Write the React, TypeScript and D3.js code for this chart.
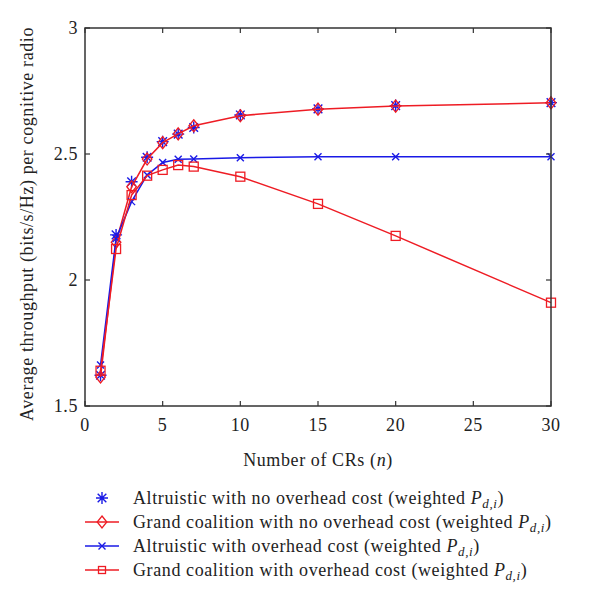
import React, {useRef, useEffect} from 'react';
import * as d3 from "d3";

// number of cognitive radios
const crs = [1, 2, 3, 4, 5, 6, 7, 10, 15, 20, 30];
// average throughput per CR (bits/s/Hz)
const altruisticNoOverhead = [1.622, 2.179, 2.39, 2.487, 2.549, 2.579, 2.605, 2.655, 2.679, 2.692, 2.704];
const grandNoOverhead = [1.615, 2.15, 2.37, 2.48, 2.545, 2.58, 2.612, 2.652, 2.678, 2.69, 2.703];
const altruisticOverhead = [1.663, 2.165, 2.311, 2.417, 2.466, 2.479, 2.48, 2.485, 2.489, 2.489, 2.489];
const grandOverhead = [1.64, 2.123, 2.337, 2.414, 2.437, 2.456, 2.45, 2.41, 2.302, 2.175, 1.91];

const xTicks = [0, 5, 10, 15, 20, 25, 30];
const yTicks = [1.5, 2, 2.5, 3];

const legendLabels = [
  "Altruistic with no overhead cost (weighted ",
  "Grand coalition with no overhead cost (weighted ",
  "Altruistic with overhead cost (weighted ",
  "Grand coalition with overhead cost (weighted ",
];

const RED = "#ee1c24";
const BLUE = "#1a1ae6";
const FONT = "'Liberation Serif', 'DejaVu Serif', serif";

function App(){
  const canvas = useRef<SVGSVGElement>(null);

  useEffect(() => {
    const svg = d3.select(canvas.current);
    svg.selectAll("*").remove();

    const left = 85, right = 551, top = 28, bottom = 406;

    const x = d3.scaleLinear().domain([0, 30]).range([left, right]);
    const y = d3.scaleLinear().domain([1.5, 3]).range([bottom, top]);

    const line = d3.line<[number, number]>()
      .x(d => x(d[0]))
      .y(d => y(d[1]));

    const pts = (vals: number[]) => crs.map((c, i) => [c, vals[i]] as [number, number]);

    // markers
    const star = (g: any, cx: number, cy: number, r: number, color: string) => {
      const d = r * 0.72;
      g.append("path")
        .attr("d", `M${cx - r},${cy}L${cx + r},${cy}M${cx},${cy - r}L${cx},${cy + r}M${cx - d},${cy - d}L${cx + d},${cy + d}M${cx - d},${cy + d}L${cx + d},${cy - d}`)
        .attr("stroke", color).attr("stroke-width", 1.4).attr("fill", "none");
    };
    const diamond = (g: any, cx: number, cy: number, r: number, color: string) => {
      g.append("path")
        .attr("d", `M${cx},${cy - r}L${cx + r * 0.8},${cy}L${cx},${cy + r}L${cx - r * 0.8},${cy}Z`)
        .attr("stroke", color).attr("stroke-width", 1.3).attr("fill", "none");
    };
    const cross = (g: any, cx: number, cy: number, r: number, color: string) => {
      g.append("path")
        .attr("d", `M${cx - r},${cy - r}L${cx + r},${cy + r}M${cx - r},${cy + r}L${cx + r},${cy - r}`)
        .attr("stroke", color).attr("stroke-width", 1.4).attr("fill", "none");
    };
    const square = (g: any, cx: number, cy: number, r: number, color: string) => {
      g.append("rect")
        .attr("x", cx - r).attr("y", cy - r).attr("width", 2 * r).attr("height", 2 * r)
        .attr("stroke", color).attr("stroke-width", 1.3).attr("fill", "none");
    };

    const plot = svg.append("g");

    // series 1: asterisks only
    pts(altruisticNoOverhead).forEach(p => star(plot, x(p[0]), y(p[1]), 6, BLUE));

    // series 2: red line + diamonds
    plot.append("path").attr("d", line(pts(grandNoOverhead)))
      .attr("fill", "none").attr("stroke", RED).attr("stroke-width", 1.5);
    pts(grandNoOverhead).forEach(p => diamond(plot, x(p[0]), y(p[1]), 6, RED));

    // series 3: blue line + x
    plot.append("path").attr("d", line(pts(altruisticOverhead)))
      .attr("fill", "none").attr("stroke", BLUE).attr("stroke-width", 1.5);
    pts(altruisticOverhead).forEach(p => cross(plot, x(p[0]), y(p[1]), 3.5, BLUE));

    // series 4: red line + squares
    plot.append("path").attr("d", line(pts(grandOverhead)))
      .attr("fill", "none").attr("stroke", RED).attr("stroke-width", 1.5);
    pts(grandOverhead).forEach(p => square(plot, x(p[0]), y(p[1]), 4.5, RED));

    // frame
    svg.append("rect")
      .attr("x", left).attr("y", top).attr("width", right - left).attr("height", bottom - top)
      .attr("fill", "none").attr("stroke", "#333").attr("stroke-width", 1.5);

    const txt = (sel: any) => sel
      .style("font-family", FONT).style("font-size", "18px")
      .style("letter-spacing", "0.6px").attr("fill", "#222");

    // inward ticks
    const tickLen = 5;
    xTicks.forEach(t => {
      svg.append("line").attr("x1", x(t)).attr("x2", x(t)).attr("y1", bottom).attr("y2", bottom - tickLen)
        .attr("stroke", "#333").attr("stroke-width", 1.2);
      svg.append("line").attr("x1", x(t)).attr("x2", x(t)).attr("y1", top).attr("y2", top + tickLen)
        .attr("stroke", "#333").attr("stroke-width", 1.2);
      txt(svg.append("text")
        .attr("x", x(t)).attr("y", 431)
        .attr("text-anchor", "middle"))
        .text(d3.format("d")(t));
    });
    yTicks.forEach(t => {
      svg.append("line").attr("x1", left).attr("x2", left + tickLen).attr("y1", y(t)).attr("y2", y(t))
        .attr("stroke", "#333").attr("stroke-width", 1.2);
      svg.append("line").attr("x1", right).attr("x2", right - tickLen).attr("y1", y(t)).attr("y2", y(t))
        .attr("stroke", "#333").attr("stroke-width", 1.2);
      txt(svg.append("text")
        .attr("x", left - 7).attr("y", y(t) + 6)
        .attr("text-anchor", "end"))
        .text(t === 1.5 || t === 2.5 ? String(t) : d3.format("d")(t));
    });

    // axis titles
    const xt = txt(svg.append("text")
      .attr("x", (left + right) / 2).attr("y", 466)
      .attr("text-anchor", "middle"));
    xt.append("tspan").text("Number of CRs (");
    xt.append("tspan").style("font-style", "italic").text("n");
    xt.append("tspan").text(")");

    txt(svg.append("text")
      .attr("transform", `translate(33, 224) rotate(-90)`)
      .attr("text-anchor", "middle"))
      .text("Average throughput (bits/s/Hz) per cognitive radio");

    // legend
    const lg = svg.append("g");
    const markers = [
      (cy: number) => star(lg, 102, cy, 6, BLUE),
      (cy: number) => { lg.append("line").attr("x1", 85).attr("x2", 119).attr("y1", cy).attr("y2", cy).attr("stroke", RED).attr("stroke-width", 1.5); diamond(lg, 102, cy, 6, RED); },
      (cy: number) => { lg.append("line").attr("x1", 85).attr("x2", 119).attr("y1", cy).attr("y2", cy).attr("stroke", BLUE).attr("stroke-width", 1.5); cross(lg, 102, cy, 3.5, BLUE); },
      (cy: number) => { lg.append("line").attr("x1", 85).attr("x2", 119).attr("y1", cy).attr("y2", cy).attr("stroke", RED).attr("stroke-width", 1.5); square(lg, 102, cy, 3.5, RED); },
    ];
    legendLabels.forEach((label, i) => {
      const cy = 498 + i * 24;
      markers[i](cy);
      const t = txt(lg.append("text")
        .attr("x", 133).attr("y", cy + 6));
      t.append("tspan").text(label);
      t.append("tspan").style("font-style", "italic").text("P");
      t.append("tspan").style("font-style", "italic").style("font-size", "13px").attr("dy", 4).text("d,i");
      t.append("tspan").attr("dy", -4).text(")");
    });
  }, []);

  return (
    <svg ref={canvas} width={600} height={605}
      style={{position: "absolute", left: 0, top: 0, background: "#fff"}} />
  );
}

export default App;
